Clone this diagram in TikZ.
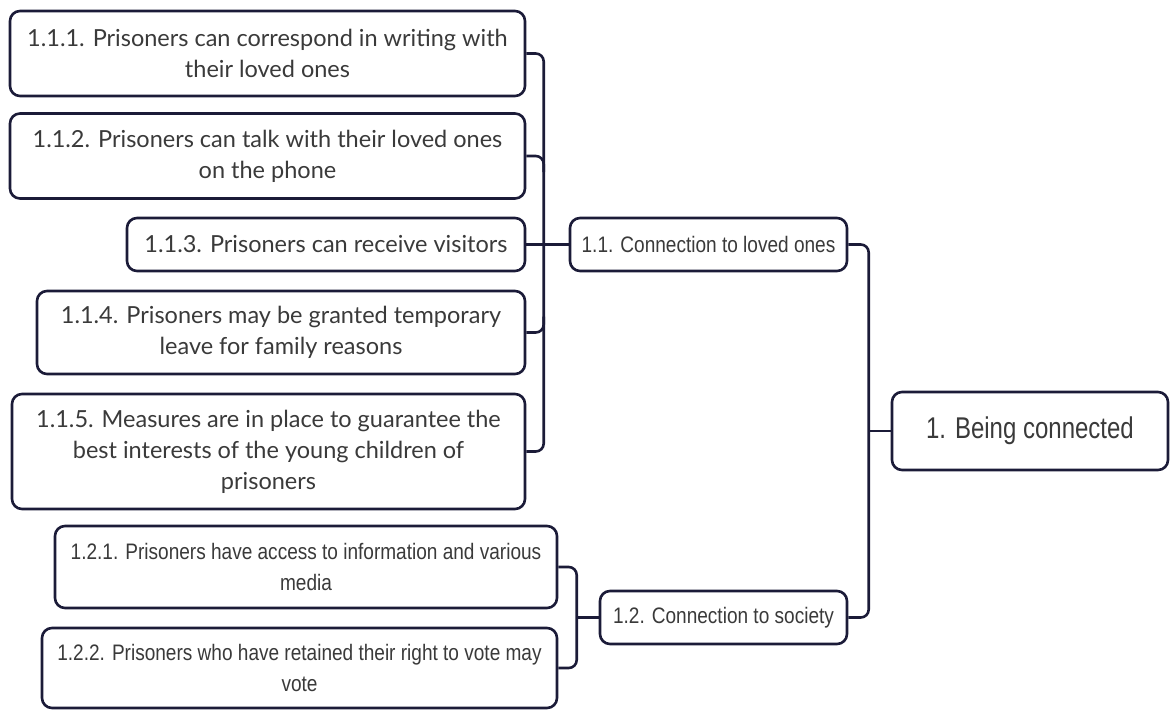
\documentclass[tikz,border=0pt]{standalone}
\usepackage{fontspec}
\usetikzlibrary{calc}
\setmainfont{Lato}
\newfontfamily\narrowfont[FakeStretch=0.85]{Liberation Sans}
\newfontfamily\mainnarrow[FakeStretch=0.8]{Liberation Sans}
\definecolor{lineC}{HTML}{1B1B38}
\definecolor{txtC}{HTML}{3A3A3A}
\begin{document}
\begin{tikzpicture}[x=1pt,y=-1pt,
  box/.style={draw=lineC, line width=2.6pt, rounded corners=10pt, fill=white, align=center, inner sep=0pt, text=txtC},
  big/.style={box, font=\fontsize{23.5}{31}\selectfont},
  small/.style={box, font=\narrowfont\fontsize{22.4}{31}\selectfont},
  conn/.style={draw=lineC, line width=2.6pt, rounded corners=8pt}]
\useasboundingbox (0,0) rectangle (1170,710);
\node[big, minimum width=515pt, minimum height=85pt] (n111) at (267.5,53.5) {1.1.1. Prisoners can correspond in writing with\\their loved ones};
\node[big, minimum width=515pt, minimum height=85pt] (n112) at (267.5,156) {1.1.2. Prisoners can talk with their loved ones\\on the phone};
\node[big, minimum width=398pt, minimum height=53pt] (n113) at (326,244.5) {1.1.3. Prisoners can receive visitors};
\node[big, minimum width=488pt, minimum height=83pt] (n114) at (281,332.5) {1.1.4. Prisoners may be granted temporary\\leave for family reasons};
\node[big, minimum width=513pt, minimum height=115pt] (n115) at (268.5,451.5) {1.1.5. Measures are in place to guarantee the\\best interests of the young children of\\prisoners};
\node[small, minimum width=277pt, minimum height=53pt] (n11) at (708.5,244.5) {1.1. Connection to loved ones};
\node[small, minimum width=502pt, minimum height=82pt] (n121) at (306,567) {1.2.1. Prisoners have access to information and various\\media};
\node[small, minimum width=515pt, minimum height=80pt] (n122) at (299.5,668) {1.2.2. Prisoners who have retained their right to vote may\\vote};
\node[small, minimum width=247pt, minimum height=53pt] (n12) at (723.5,617.5) {1.2. Connection to society};
\node[box, font=\mainnarrow\fontsize{30}{36}\selectfont, minimum width=276pt, minimum height=78pt] (n1) at (1030,431) {1. Being connected};
% group 1.1
\coordinate (b11) at ([xshift=-25pt]n11.west);
\draw[conn] (n111.east) -| (b11 |- n115.east) -- (n115.east);
\draw[conn] (n112.east) -| ($(b11 |- n112.east)+(0,16)$);
\draw[conn] (n114.east) -| ($(b11 |- n114.east)+(0,-16)$);
\draw[conn] (n113.east) -- (n11.west);
% group 1.2
\coordinate (b12) at ([xshift=-22pt]n12.west);
\draw[conn] (n121.east) -| (b12 |- n122.east) -- (n122.east);
\draw[conn] (b12) -- (n12.west);
% group 1
\coordinate (b1) at ([xshift=-22pt]n1.west);
\draw[conn] (n11.east) -| (b1 |- n12.east) -- (n12.east);
\draw[conn] (b1) -- (n1.west);
\end{tikzpicture}
\end{document}
